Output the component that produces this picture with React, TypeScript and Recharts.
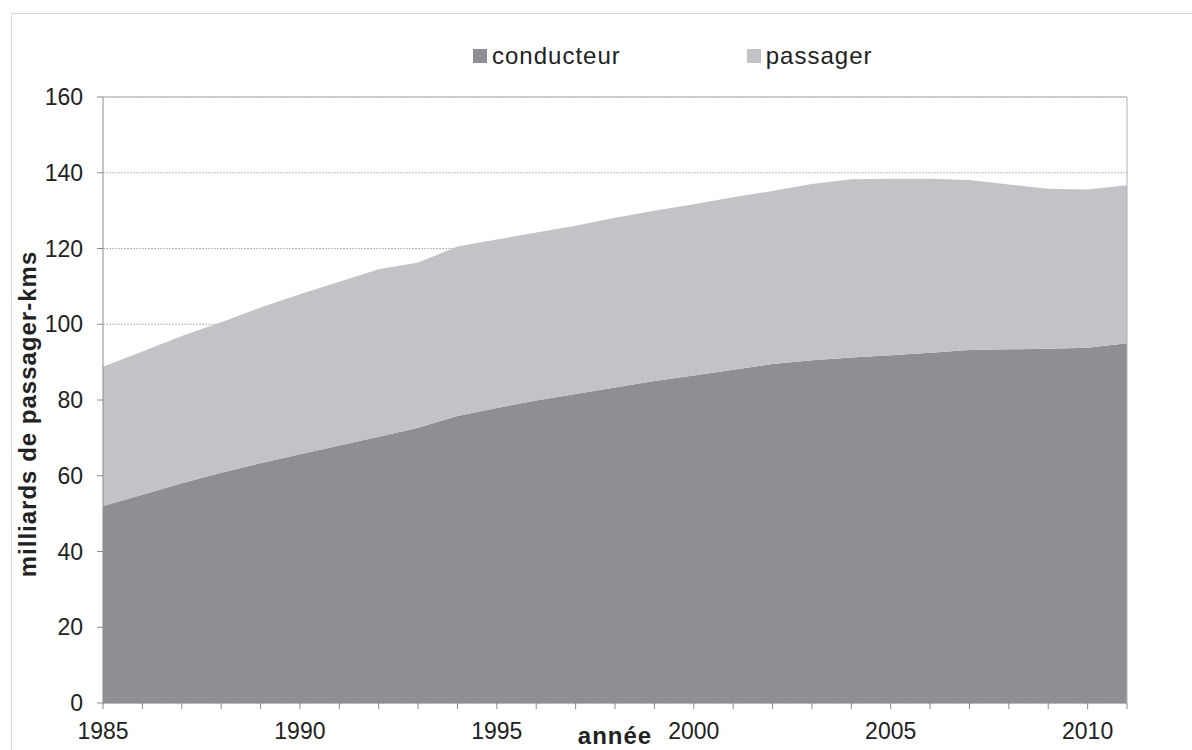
import React from 'react';
import { AreaChart, Area, XAxis, YAxis, CartesianGrid, ReferenceLine } from 'recharts';

const years = [
  1985, 1986, 1987, 1988, 1989, 1990, 1991, 1992, 1993, 1994, 1995, 1996, 1997, 1998,
  1999, 2000, 2001, 2002, 2003, 2004, 2005, 2006, 2007, 2008, 2009, 2010, 2011,
];
const conducteur = [
  52, 55, 58, 60.8, 63.3, 65.7, 68, 70.3, 72.7, 75.8, 77.9, 79.9, 81.6, 83.3,
  85, 86.5, 88, 89.5, 90.5, 91.2, 91.8, 92.5, 93.2, 93.4, 93.5, 93.8, 95,
];
const passager = [
  36.8, 37.8, 38.9, 39.7, 41.1, 42.2, 43.2, 44.2, 43.6, 44.7, 44.5, 44.3, 44.4, 44.8,
  45, 45.2, 45.5, 45.7, 46.5, 47.1, 46.6, 45.9, 44.9, 43.5, 42.3, 41.8, 41.7,
];
const yTicks = [0, 20, 40, 60, 80, 100, 120, 140, 160];

const seriesNames = ['conducteur', 'passager'];
const seriesColors = ['#8e8f93', '#c2c3c7'];

const data = years.map((year, i) => ({
  year,
  conducteur: conducteur[i],
  passager: passager[i],
}));

const font = '"Liberation Sans", Arial, sans-serif';
const textColor = '#222';
const axisColor = '#8a8a8a';

const YTitle = (props: any) => {
  const vb = props.viewBox || { x: 18, y: 97, width: 85, height: 606 };
  const x = vb.x + 18;
  const y = vb.y + vb.height / 2 + 14;
  return (
    <text
      x={x}
      y={y}
      transform={`rotate(-90, ${x}, ${y})`}
      textAnchor="middle"
      fontFamily={font}
      fontSize={24}
      fontWeight="bold"
      letterSpacing={1}
      fill={textColor}
    >
      milliards de passager-kms
    </text>
  );
};

const XTitle = (props: any) => {
  const vb = props.viewBox || { x: 103, y: 703, width: 1024, height: 47 };
  return (
    <text
      x={vb.x + vb.width / 2}
      y={vb.y + 41}
      textAnchor="middle"
      fontFamily={font}
      fontSize={24}
      fontWeight="bold"
      letterSpacing={1}
      fill={textColor}
    >
      année
    </text>
  );
};

export default function App() {
  return (
    <div
      style={{
        position: 'fixed',
        left: 0,
        top: 0,
        width: 1192,
        height: 750,
        overflow: 'hidden',
        background: '#fff',
        fontFamily: font,
      }}
    >
      {/* outer frame, runs off the right and bottom edges */}
      <div
        style={{
          position: 'absolute',
          left: 11,
          top: 13,
          width: 2000,
          height: 2000,
          border: '1px solid #d9d9d9',
        }}
      />

      {/* legend */}
      <div
        style={{
          position: 'absolute',
          left: 473,
          top: 44,
          display: 'flex',
          gap: 126,
          fontSize: 24,
          lineHeight: '24px',
          letterSpacing: 1,
          color: textColor,
        }}
      >
        {seriesNames.map((name, i) => (
          <div key={name} style={{ display: 'flex', alignItems: 'center' }}>
            <span
              style={{
                display: 'inline-block',
                width: 14,
                height: 14,
                background: seriesColors[i],
                marginRight: 5,
              }}
            />
            <span>{name}</span>
          </div>
        ))}
      </div>

      <div style={{ position: 'absolute', left: 0, top: 0 }}>
        <AreaChart
          width={1192}
          height={750}
          data={data}
          margin={{ top: 97, right: 65, bottom: 0, left: 18 }}
        >
          <CartesianGrid
            vertical={false}
            stroke="#bdbdbd"
            strokeDasharray="2 1"
          />
          <XAxis
            dataKey="year"
            type="number"
            domain={[1985, 2011]}
            ticks={years}
            interval={0}
            height={47}
            tickSize={6}
            tickMargin={14}
            tickFormatter={(v: number) => (v % 5 === 0 ? String(v) : '')}
            tick={{ fill: textColor, fontSize: 23, fontFamily: font }}
            stroke={axisColor}
            tickLine={{ stroke: axisColor }}
            axisLine={{ stroke: axisColor }}
            label={{ content: XTitle }}
          />
          <YAxis
            domain={[0, 160]}
            ticks={yTicks}
            width={85}
            tickSize={6}
            tickMargin={14}
            tick={{ fill: textColor, fontSize: 23, fontFamily: font }}
            tickLine={{ stroke: axisColor }}
            axisLine={{ stroke: axisColor }}
            label={{ content: YTitle }}
          />
          <Area
            type="linear"
            dataKey="conducteur"
            name={seriesNames[0]}
            stackId="1"
            stroke="none"
            fill={seriesColors[0]}
            fillOpacity={1}
            isAnimationActive={false}
          />
          <Area
            type="linear"
            dataKey="passager"
            name={seriesNames[1]}
            stackId="1"
            stroke="none"
            fill={seriesColors[1]}
            fillOpacity={1}
            isAnimationActive={false}
          />
          <ReferenceLine y={160} stroke="#b0b0b0" />
          <ReferenceLine x={2011} stroke="#b0b0b0" />
        </AreaChart>
      </div>
    </div>
  );
}
